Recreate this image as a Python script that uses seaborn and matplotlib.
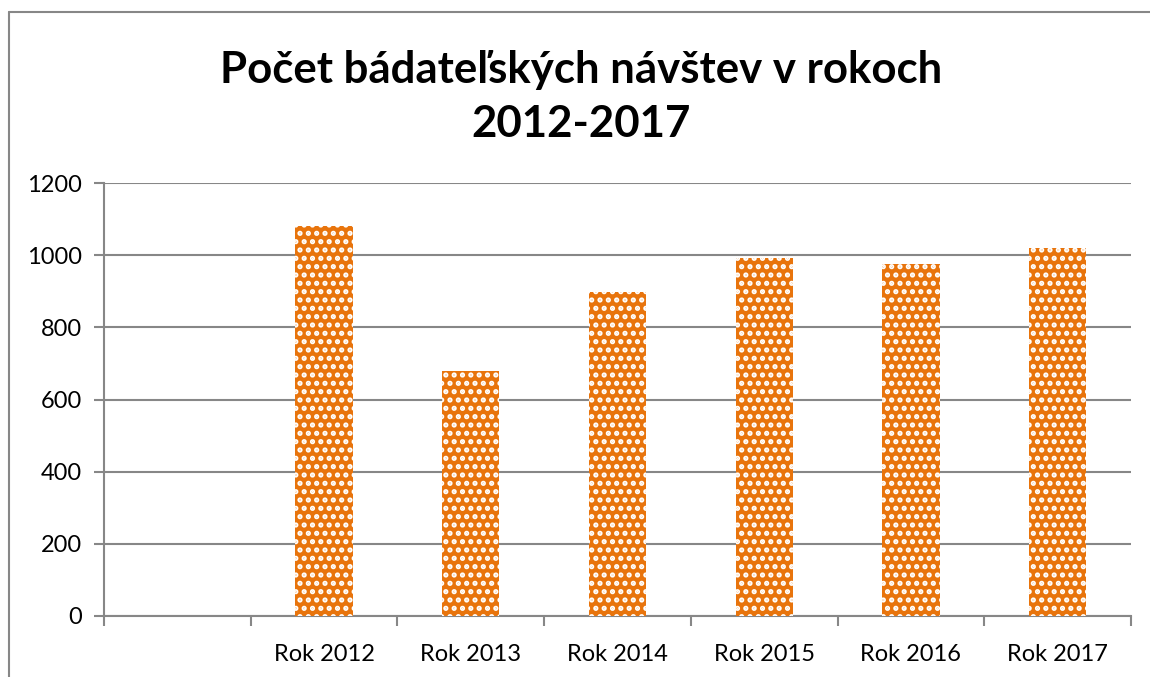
import matplotlib
matplotlib.use("Agg")
import matplotlib.pyplot as plt
import seaborn as sns
import pandas as pd
import numpy as np
from matplotlib.lines import Line2D

categories = ["Rok 2012", "Rok 2013", "Rok 2014", "Rok 2015", "Rok 2016", "Rok 2017"]
values = [1082, 678, 897, 991, 975, 1019]
yticks = [0, 200, 400, 600, 800, 1000, 1200]
title = "Počet bádateľských návštev v rokoch\n2012-2017"

sns.set_style("white")
plt.rcParams["font.family"] = ["Lato", "DejaVu Sans"]
plt.rcParams["text.color"] = "black"
plt.rcParams["xtick.color"] = "black"
plt.rcParams["ytick.color"] = "black"
plt.rcParams["hatch.linewidth"] = 2.5

GRAY = "#878787"
ORANGE = "#E8740C"

df = pd.DataFrame({"cat": categories, "val": values})
order = [""] + categories

fig = plt.figure(figsize=(11.5, 6.77), dpi=100)
ax = fig.add_axes([104 / 1150, 61 / 677, (1131 - 104) / 1150, (616 - 183) / 677])

sns.barplot(data=df, x="cat", y="val", order=order, ax=ax, width=0.39,
            color=ORANGE, saturation=1, edgecolor="white", linewidth=0, zorder=3)
for p in ax.patches:
    p.set_hatch("..")
    p.set_edgecolor("white")
    p.set_linewidth(0)

ax.set_xlim(-0.5, len(order) - 0.5)
ax.set_ylim(0, 1200)
ax.set_yticks(yticks)
ax.set_yticklabels([str(v) for v in yticks], fontsize=17)
ax.yaxis.grid(True, color=GRAY, linewidth=1.5, zorder=0)
ax.set_axisbelow(True)

# category boundaries as major ticks, labels at centers
ax.set_xticks(np.arange(-0.5, len(order), 1.0))
ax.set_xticklabels([])
ax.set_xticks(np.arange(len(order)), minor=True)
ax.set_xticklabels(order, minor=True, fontsize=17)
ax.tick_params(axis="x", which="major", direction="out", length=7, width=1.5, color=GRAY, bottom=True)
ax.tick_params(axis="x", which="minor", length=0, pad=20, labelcolor="black")
ax.tick_params(axis="y", direction="out", length=7, width=1.5, color=GRAY, left=True, pad=9,
               labelcolor="black")

for s in ["top", "right"]:
    ax.spines[s].set_visible(False)
for s in ["left", "bottom"]:
    ax.spines[s].set_color(GRAY)
    ax.spines[s].set_linewidth(1.5)
ax.set_xlabel("")
ax.set_ylabel("")

fig.text(0.505, (677 - 97) / 677, title, ha="center", va="center", color="black",
         fontsize=31.5, fontweight="bold", linespacing=1.42)

# outer chart border (left and top)
fig.add_artist(Line2D([8.5 / 1150, 8.5 / 1150], [0, (677 - 11.5) / 677],
                      transform=fig.transFigure, color=GRAY, linewidth=1.5))
fig.add_artist(Line2D([8.5 / 1150, 1], [(677 - 11.5) / 677, (677 - 11.5) / 677],
                      transform=fig.transFigure, color=GRAY, linewidth=1.5))

fig.savefig("out.png", dpi=100)
